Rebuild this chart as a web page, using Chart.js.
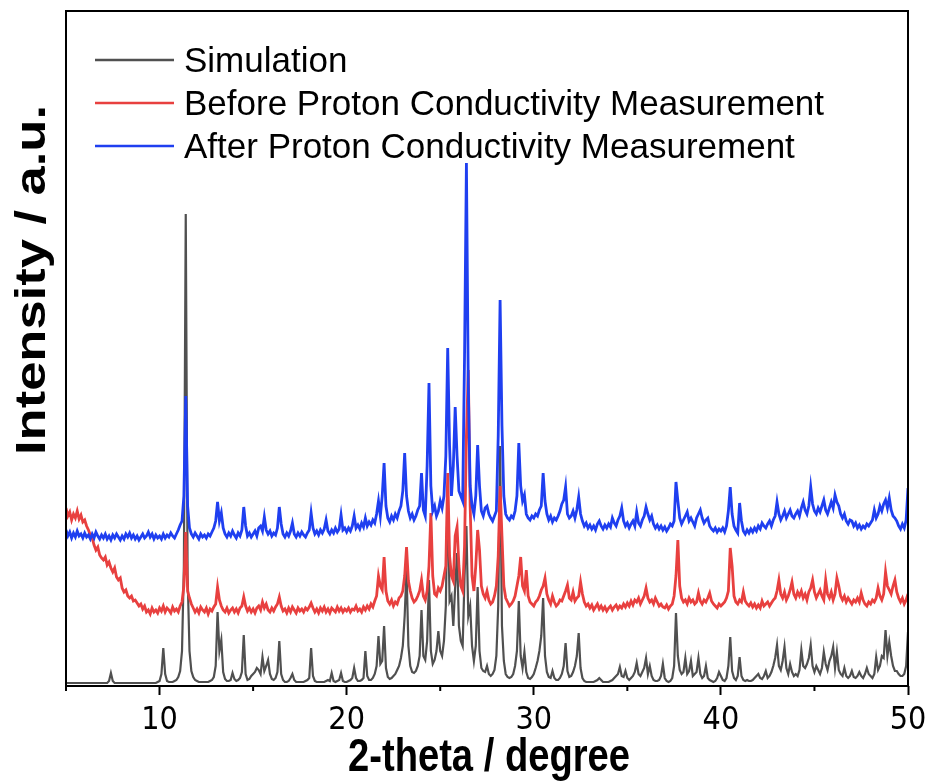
<!DOCTYPE html>
<html>
<head>
<meta charset="utf-8">
<script src="https://cdn.jsdelivr.net/npm/chart.js@4"></script>
<style>
  html, body { margin: 0; padding: 0; background: #fff; }
  canvas { display: block; }
</style>
</head>
<body>
<canvas id="xrdChart" width="929" height="784"></canvas>
<script>
// 2-theta sampling grid, 5.0 .. 50.0 deg, one value every 0.1 deg
const thetaStart = 5;
const thetaStep = 0.1;

const xTicks = [10, 20, 30, 40, 50];
const xMinorTicks = [5, 15, 25, 35, 45];

const seriesNames = ['Simulation', 'Before Proton Conductivity Measurement', 'After Proton Conductivity Measurement'];
const seriesColors = ['#505050', '#e8403f', '#1f3ff0'];
const xTitle = '2-theta / degree';
const yTitle = 'Intensity / a.u.';

// intensities (a.u., stacked offsets included), one row per degree
const simulation = [
  3, 3, 3, 3, 3, 3, 3, 3, 3, 3,
  3, 3, 3, 3, 3, 3, 3, 3, 3, 3,
  3, 3, 3, 5, 13, 5, 3, 3, 3, 3,
  3, 3, 3, 3, 3, 3, 3, 3, 3, 3,
  3, 3, 3, 3, 3, 3, 3, 3, 3, 4,
  5, 12, 38, 12, 5, 4, 4, 4, 5, 6,
  9, 15, 35, 120, 472, 110, 35, 15, 9, 6,
  5, 4, 4, 4, 4, 4, 4, 5, 6, 9,
  20, 74, 35, 46, 14, 7, 5, 5, 6, 13,
  7, 5, 6, 8, 14, 51, 12, 6, 7, 10,
  12, 14, 18, 16, 12, 29, 15, 20, 26, 12,
  7, 6, 8, 14, 45, 12, 6, 4, 4, 5,
  8, 12, 6, 4, 4, 4, 4, 4, 5, 6,
  8, 38, 10, 5, 4, 4, 4, 4, 4, 5,
  6, 5, 13, 5, 4, 5, 6, 13, 5, 4,
  4, 5, 6, 8, 18, 8, 5, 5, 6, 8,
  35, 10, 6, 6, 8, 12, 20, 50, 22, 25,
  60, 18, 9, 7, 8, 10, 12, 16, 20, 28,
  40, 70, 116, 40, 20, 14, 13, 15, 20, 30,
  76, 30, 26, 45, 106, 35, 22, 26, 35, 55,
  35, 30, 45, 80, 200, 85, 90, 60, 100, 133,
  60, 45, 40, 110, 160, 70, 80, 40, 25, 40,
  99, 35, 18, 15, 14, 20, 12, 10, 12, 16,
  30, 80, 240, 60, 25, 12, 9, 8, 9, 12,
  20, 35, 85, 30, 18, 34, 14, 8, 7, 9,
  12, 18, 25, 35, 50, 88, 30, 14, 9, 8,
  15, 8, 6, 6, 8, 12, 20, 43, 15, 9,
  10, 14, 20, 30, 53, 18, 8, 5, 4, 4,
  4, 4, 4, 5, 6, 8, 6, 4, 4, 4,
  4, 5, 6, 8, 10, 12, 19, 10, 9, 15,
  8, 6, 8, 10, 14, 23, 12, 10, 14, 18,
  28, 12, 20, 10, 6, 5, 5, 6, 10, 22,
  8, 5, 4, 5, 8, 20, 73, 30, 16, 12,
  14, 28, 12, 15, 25, 10, 12, 14, 28, 12,
  8, 10, 20, 8, 6, 5, 4, 5, 8, 14,
  10, 6, 5, 8, 20, 49, 15, 8, 6, 10,
  29, 10, 6, 5, 6, 5, 5, 6, 8, 10,
  12, 8, 7, 10, 15, 8, 10, 14, 20, 28,
  41, 20, 16, 25, 39, 18, 12, 22, 14, 10,
  12, 10, 16, 36, 20, 18, 22, 28, 41, 20,
  14, 20, 16, 12, 18, 34, 22, 16, 25, 30,
  39, 18, 34, 16, 12, 10, 18, 10, 8, 10,
  15, 9, 8, 10, 14, 10, 8, 12, 18, 12,
  10, 8, 12, 29, 16, 20, 30, 28, 56, 30,
  44, 30, 20, 15, 15, 12, 10, 10, 12, 20,
  54
];

const beforeMeasurement = [
  178, 170, 174, 166, 172, 168, 175, 167, 171, 164,
  166, 160, 156, 151, 148, 141, 136, 139, 131, 128,
  126, 129, 121, 124, 118, 114, 118, 109, 106, 108,
  98, 94, 96, 90, 88, 90, 85, 86, 83, 80,
  82, 77, 80, 74, 76, 72, 78, 74, 76, 73,
  78, 75, 80, 74, 78, 76, 73, 79, 75, 77,
  74, 80, 84, 100, 154, 95, 88, 82, 78, 74,
  77, 73, 79, 76, 74, 78, 72, 77, 75, 79,
  82, 99, 86, 80, 76, 74, 78, 73, 76, 78,
  74, 77, 73, 78, 80, 89, 80, 75, 78, 74,
  77, 73, 78, 80, 76, 84, 78, 82, 76, 74,
  78, 75, 79, 82, 89, 80, 75, 77, 73, 78,
  74, 79, 76, 73, 78, 75, 77, 74, 78, 76,
  79, 83, 78, 74, 77, 73, 78, 75, 79, 74,
  77, 73, 78, 76, 74, 79, 75, 78, 74, 77,
  75, 78, 74, 77, 76, 80, 75, 77, 74, 79,
  76, 80, 77, 82, 79, 85, 90, 110, 100, 96,
  129, 95, 85, 82, 86, 80, 84, 82, 88, 90,
  95, 110, 139, 105, 95, 88, 84, 86, 90, 95,
  106, 90, 86, 95, 120, 173, 110, 92, 90, 98,
  95, 100, 110, 120, 213, 130, 110, 105, 150, 159,
  120, 100, 95, 140, 250, 316, 180, 110, 95, 120,
  156, 136, 100, 92, 88, 95, 86, 82, 84, 90,
  100, 130, 200, 150, 100, 88, 84, 80, 82, 85,
  90, 100, 110, 129, 100, 95, 116, 90, 84, 82,
  80, 84, 86, 90, 96, 100, 108, 92, 86, 82,
  90, 84, 80, 82, 86, 85, 90, 95, 101, 88,
  86, 94, 85, 88, 90, 104, 92, 84, 80, 82,
  78, 81, 76, 79, 82, 77, 80, 76, 79, 75,
  78, 80, 76, 79, 81, 77, 80, 78, 82, 79,
  83, 80, 85, 81, 86, 84, 88, 82, 86, 90,
  98, 88, 84, 86, 82, 88, 84, 80, 82, 79,
  78, 81, 77, 80, 82, 90, 110, 146, 100, 88,
  84, 86, 82, 88, 84, 86, 82, 84, 93, 85,
  82, 86, 84, 88, 93, 85, 82, 80, 78, 82,
  80, 82, 84, 88, 95, 138, 120, 90, 84, 82,
  86, 84, 94, 85, 82, 80, 83, 79, 82, 78,
  81, 78, 85, 80, 82, 84, 80, 83, 86, 88,
  95, 106, 92, 88, 94, 86, 90, 96, 104, 92,
  88, 94, 90, 95, 88, 92, 86, 94, 98, 106,
  94, 88, 92, 96, 90, 86, 106, 92, 88, 94,
  86, 92, 108, 100, 90, 86, 90, 84, 88, 85,
  82, 86, 84, 88, 84, 93, 86, 82, 80, 84,
  82, 86, 84, 88, 98, 90, 86, 92, 114, 100,
  96, 92, 100, 106, 94, 88, 84, 88, 82, 86,
  92
];

const afterMeasurement = [
  156, 150, 154, 148, 153, 149, 155, 150, 152, 148,
  153, 149, 151, 147, 152, 148, 154, 150, 147, 151,
  148, 152, 147, 150, 146, 151, 148, 152, 149, 146,
  150, 147, 152, 149, 153, 148, 151, 147, 150, 146,
  149, 152, 148, 150, 154, 149, 152, 147, 151, 148,
  150, 147, 152, 148, 151, 149, 153, 150, 148, 152,
  156, 161, 165, 190, 290, 180, 158, 152, 149, 153,
  150, 147, 152, 149, 151, 148, 152, 150, 154, 158,
  165, 184, 165, 173, 158, 152, 149, 153, 150, 155,
  151, 148, 153, 150, 156, 179, 160, 150, 153, 149,
  152, 155, 150, 158, 160, 155, 169, 156, 152, 155,
  150, 153, 151, 158, 179, 162, 152, 149, 153, 150,
  155, 163, 152, 149, 153, 150, 154, 151, 149, 153,
  156, 173, 158, 152, 155, 151, 156, 153, 157, 166,
  155, 152, 156, 153, 158, 154, 157, 171, 156, 158,
  154, 158, 155, 160, 170, 158, 161, 157, 163, 159,
  168, 160, 164, 161, 166, 163, 172, 185, 170, 190,
  223, 180, 168, 164, 170, 166, 172, 168, 175, 180,
  195, 233, 190, 175, 168, 172, 166, 170, 176, 180,
  213, 176, 170, 220, 303, 200, 175, 180, 170, 175,
  185, 178, 190, 230, 338, 240, 190, 220, 279, 230,
  195, 190, 185, 330, 523, 300, 200, 180, 172, 190,
  241, 200, 175, 170, 178, 180, 172, 168, 165, 170,
  175, 250, 386, 260, 190, 172, 168, 166, 170, 168,
  175, 190, 243, 200, 185, 191, 172, 168, 166, 170,
  168, 172, 170, 176, 180, 213, 185, 172, 166, 170,
  164, 168, 166, 170, 175, 182, 186, 199, 172, 168,
  170, 175, 168, 176, 189, 172, 165, 160, 163, 158,
  161, 157, 160, 156, 162, 165, 160, 157, 161, 158,
  162, 159, 168, 163, 160, 166, 170, 178, 165, 160,
  163, 158, 162, 165, 160, 174, 163, 160, 166, 170,
  179, 172, 166, 170, 162, 158, 161, 157, 160, 156,
  159, 155, 158, 162, 160, 165, 204, 185, 168, 162,
  166, 170, 174, 165, 168, 164, 160, 168, 172, 176,
  168, 163, 166, 168, 160, 157, 155, 158, 154, 157,
  155, 158, 154, 160, 175, 199, 172, 160, 156, 153,
  183, 165, 155, 152, 156, 153, 157, 154, 158, 155,
  160, 157, 163, 160, 158, 162, 165, 160, 166, 170,
  184, 172, 166, 170, 175, 168, 172, 176, 170, 168,
  172, 175, 170, 178, 184, 176, 172, 180, 199, 182,
  175, 172, 178, 174, 180, 186, 176, 172, 178, 184,
  178, 191, 184, 180, 172, 168, 172, 165, 162, 166,
  165, 160, 163, 158, 161, 157, 160, 158, 162, 160,
  163, 166, 176, 168, 172, 180, 175, 182, 186, 178,
  188, 176, 170, 168, 165, 160, 157, 162, 158, 166,
  198
];

function toPoints(values) {
  return values.map((v, i) => ({ x: Math.round((thetaStart + i * thetaStep) * 10) / 10, y: v }));
}

// texto estirado a un ancho dado (la figura original está escalada en vertical)
function drawFittedText(ctx, text, font, width, stretchY) {
  ctx.font = font;
  const w = ctx.measureText(text).width;
  ctx.scale(width / w, stretchY);
  ctx.fillText(text, 0, 0);
}

// marco, ticks menores, títulos de ejes y leyenda dentro del área
const decorations = {
  id: 'decorations',
  afterDraw(chart) {
    const { ctx, chartArea: a, scales: { x } } = chart;
    ctx.save();
    ctx.strokeStyle = '#000';
    ctx.lineWidth = 2;
    ctx.strokeRect(a.left, a.top, a.right - a.left, a.bottom - a.top);
    xMinorTicks.forEach(v => {
      const px = x.getPixelForValue(v);
      ctx.beginPath();
      ctx.moveTo(px, a.bottom);
      ctx.lineTo(px, a.bottom + 5);
      ctx.stroke();
    });

    ctx.fillStyle = '#000';
    ctx.textAlign = 'center';
    ctx.textBaseline = 'alphabetic';

    ctx.save();
    ctx.translate((a.left + a.right) / 2 + 2, 771);
    drawFittedText(ctx, xTitle, "bold 40px 'Liberation Sans', Arial, sans-serif", 282, 1.15);
    ctx.restore();

    ctx.save();
    ctx.translate(45, 280);
    ctx.rotate(-Math.PI / 2);
    drawFittedText(ctx, yTitle, "bold 42px 'Liberation Sans', Arial, sans-serif", 350, 1);
    ctx.restore();

    ctx.font = "35px 'Liberation Sans', Arial, sans-serif";
    ctx.textAlign = 'left';
    seriesNames.forEach((name, i) => {
      const y = 60 + i * 43;
      ctx.strokeStyle = seriesColors[i];
      ctx.lineWidth = 2.5;
      ctx.beginPath();
      ctx.moveTo(95, y);
      ctx.lineTo(174, y);
      ctx.stroke();
      ctx.fillText(name, 184, y + 12);
    });
    ctx.restore();
  }
};

new Chart(document.getElementById('xrdChart'), {
  type: 'line',
  data: {
    datasets: [
      { label: seriesNames[0], data: toPoints(simulation), borderColor: seriesColors[0], borderWidth: 2.2, order: 3 },
      { label: seriesNames[1], data: toPoints(beforeMeasurement), borderColor: seriesColors[1], borderWidth: 2.8, order: 2 },
      { label: seriesNames[2], data: toPoints(afterMeasurement), borderColor: seriesColors[2], borderWidth: 2.8, order: 1 }
    ]
  },
  options: {
    responsive: false,
    animation: false,
    devicePixelRatio: 1,
    layout: { padding: { top: 11, right: 21, left: 0, bottom: 0 } },
    elements: {
      line: { tension: 0 },
      point: { radius: 0 }
    },
    plugins: {
      legend: { display: false },
      tooltip: { enabled: false }
    },
    scales: {
      x: {
        type: 'linear',
        min: 5,
        max: 50,
        afterBuildTicks: s => { s.ticks = xTicks.map(v => ({ value: v })); },
        afterFit: s => { s.height = 98; s.paddingLeft = 0; s.paddingRight = 0; },
        grid: { drawOnChartArea: false, drawTicks: true, tickLength: 9, tickColor: '#000', tickWidth: 2 },
        border: { display: false },
        ticks: {
          color: '#000',
          padding: 6,
          maxRotation: 0,
          font: { family: "'Liberation Sans Narrow', 'DejaVu Sans Condensed', sans-serif", size: 32 }
        },
        title: { display: false }
      },
      y: {
        min: 0,
        max: 675,
        afterFit: s => { s.width = 66; },
        grid: { display: false },
        border: { display: false },
        ticks: { display: false },
        title: { display: false }
      }
    }
  },
  plugins: [decorations]
});
</script>
</body>
</html>
